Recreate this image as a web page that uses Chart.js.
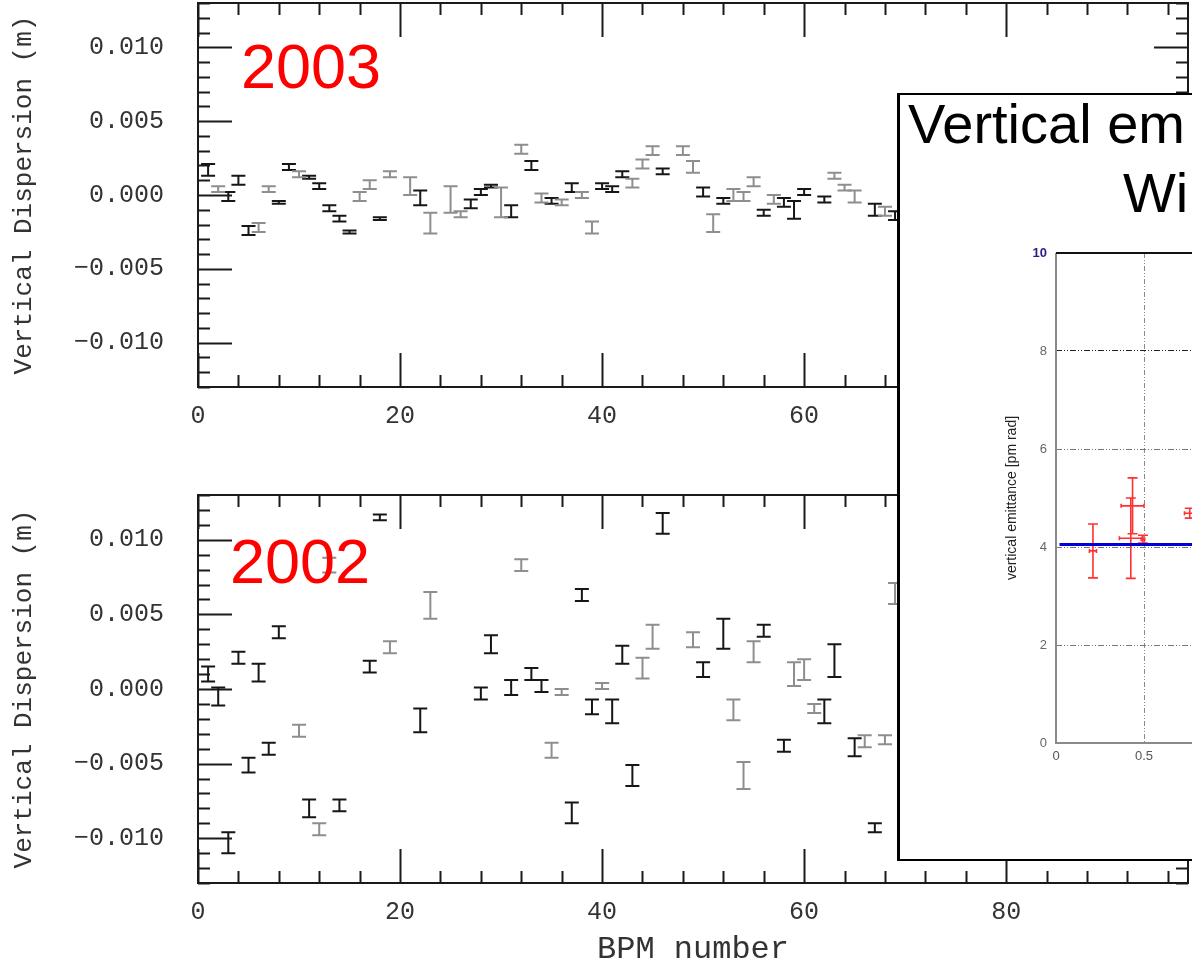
<!DOCTYPE html>
<html>
<head>
<meta charset="utf-8">
<script src="https://cdn.jsdelivr.net/npm/chart.js@4.4.1/dist/chart.umd.min.js"></script>
<style>
  html, body { margin: 0; padding: 0; background: #fff; overflow: hidden; width: 1192px; height: 966px; position: relative; }
  canvas { position: absolute; display: block; }
  #top { left: 0; top: 0; z-index: 1; }
  #bottom { left: 0; top: 450px; z-index: 1; }
  #inset { position: absolute; left: 897px; top: 93px; width: 420px; height: 768px; box-sizing: border-box;
           border: 2px solid #000; border-left-width: 3px; background: #fff; overflow: hidden; z-index: 2; }
  .inset-title { position: absolute; font-family: "Liberation Sans", Arial, sans-serif; font-size: 56px;
                 line-height: 56px; color: #000; white-space: nowrap; }
  #emit { left: 95px; top: 145px; }
</style>
</head>
<body>
<canvas id="top" width="1192" height="440"></canvas>
<canvas id="bottom" width="1192" height="516"></canvas>
<div id="inset">
  <div class="inset-title" style="left:8px;top:1px">Vertical em</div>
  <div class="inset-title" style="left:223px;top:70px">Wi</div>
  <canvas id="emit" width="325" height="540"></canvas>
</div>
<script>
// ---- Vertical dispersion per BPM, 2003 run (dark and light markers) ----
const bpm2003Dark  = [1, 3, 4, 5, 8, 9, 11, 12, 13, 14, 15, 18, 22, 27, 28, 29, 31, 33, 35, 37, 40, 41, 42, 46, 50, 52, 56, 58, 59, 60, 62, 67, 69];
const disp2003Dark = [0.0017, -0.0001, 0.0010, -0.0024, -0.0005, 0.0019, 0.0012, 0.0006, -0.0009, -0.0016, -0.0025, -0.0016, -0.0002, -0.0006, 0.0002, 0.0006, -0.0011, 0.0020, -0.0004, 0.0005, 0.0006, 0.0004, 0.0014, 0.0016, 0.0002, -0.0004, -0.0012, -0.0005, -0.0010, 0.0002, -0.0003, -0.0010, -0.0014];
const err2003Dark  = [0.0004, 0.0003, 0.0003, 0.0003, 0.0001, 0.0002, 0.0001, 0.0002, 0.0002, 0.0002, 0.0001, 0.0001, 0.0005, 0.0003, 0.0002, 0.0001, 0.0004, 0.0003, 0.0002, 0.0003, 0.0002, 0.0002, 0.0002, 0.0002, 0.0003, 0.0002, 0.0002, 0.0003, 0.0006, 0.0002, 0.0002, 0.0004, 0.0003];

const bpm2003Light  = [2, 6, 7, 10, 16, 17, 19, 21, 23, 25, 26, 30, 32, 34, 36, 38, 39, 43, 44, 45, 48, 49, 51, 53, 54, 55, 57, 63, 64, 65, 68];
const disp2003Light = [0.0004, -0.0022, 0.0004, 0.0014, -0.0001, 0.0007, 0.0014, 0.0006, -0.0019, -0.0003, -0.0013, -0.0005, 0.0031, -0.0002, -0.0005, 0.0000, -0.0022, 0.0008, 0.0021, 0.0030, 0.0030, 0.0019, -0.0019, 0.0000, -0.0001, 0.0009, -0.0003, 0.0013, 0.0005, -0.0001, -0.0011];
const err2003Light  = [0.0002, 0.0003, 0.0002, 0.0002, 0.0003, 0.0003, 0.0002, 0.0006, 0.0007, 0.0009, 0.0002, 0.0010, 0.0003, 0.0003, 0.0002, 0.0002, 0.0004, 0.0003, 0.0003, 0.0003, 0.0003, 0.0004, 0.0006, 0.0004, 0.0003, 0.0003, 0.0003, 0.0002, 0.0002, 0.0004, 0.0003];

// ---- Vertical dispersion per BPM, 2002 run ----
const bpm2002Dark  = [1, 2, 3, 4, 5, 6, 7, 8, 11, 14, 17, 18, 22, 28, 29, 31, 33, 34, 37, 38, 39, 41, 42, 43, 46, 50, 52, 56, 58, 62, 63, 65, 67];
const disp2002Dark = [0.0010, -0.0005, -0.0103, 0.0021, -0.0051, 0.0011, -0.0040, 0.0038, -0.0080, -0.0078, 0.0015, 0.0115, -0.0021, -0.0003, 0.0030, 0.0001, 0.0010, 0.0002, -0.0083, 0.0063, -0.0012, -0.0015, 0.0023, -0.0058, 0.0111, 0.0013, 0.0037, 0.0039, -0.0038, -0.0015, 0.0019, -0.0039, -0.0093];
const err2002Dark  = [0.0005, 0.0006, 0.0007, 0.0004, 0.0005, 0.0006, 0.0004, 0.0004, 0.0006, 0.0004, 0.0004, 0.0002, 0.0008, 0.0004, 0.0006, 0.0005, 0.0004, 0.0004, 0.0007, 0.0004, 0.0005, 0.0008, 0.0006, 0.0007, 0.0007, 0.0005, 0.0010, 0.0004, 0.0004, 0.0008, 0.0011, 0.0006, 0.0003];

const bpm2002Light  = [10, 12, 13, 19, 23, 32, 35, 36, 40, 44, 45, 49, 53, 54, 55, 59, 60, 61, 66, 68, 69];
const disp2002Light = [-0.0028, -0.0094, 0.0083, 0.0028, 0.0056, 0.0083, -0.0041, -0.0002, 0.0002, 0.0014, 0.0035, 0.0033, -0.0014, -0.0058, 0.0025, 0.0010, 0.0013, -0.0013, -0.0035, -0.0034, 0.0064];
const err2002Light  = [0.0004, 0.0004, 0.0005, 0.0004, 0.0009, 0.0004, 0.0005, 0.0002, 0.0002, 0.0007, 0.0008, 0.0005, 0.0007, 0.0009, 0.0007, 0.0008, 0.0007, 0.0003, 0.0004, 0.0003, 0.0007];

// ---- Axis tick values for the dispersion panels ----
const dispTickValues = [-0.010, -0.005, 0.000, 0.005, 0.010];
const bpmTickValues  = [0, 20, 40, 60, 80];

// ---- Vertical emittance measurements (inset) ----
const emitX    = [0.21, 0.435, 0.425, 0.494, 0.76];
const emitXErr = [0.02, 0.065, 0.065, 0.01, 0.03];
const emitY    = [3.92, 4.84, 4.18, 4.16, 4.69];
const emitYErr = [0.55, 0.57, 0.82, 0.08, 0.10];
const emitFitLevel = 4.05;
const emitFitFrom  = 0.02;
const emitFitTo    = 1.5;
const emitYTicks = [0, 2, 4, 6, 8, 10];
const emitXTicks = [0, 0.5, 1, 1.5];

// Draws I-shaped error bars for every dataset that carries an errorBars style.
const errorBarPlugin = {
  id: 'errorBars',
  afterDatasetDraw(chart, args) {
    const ds = chart.data.datasets[args.index];
    const style = ds.errorBars;
    if (!style) return;
    const { ctx, chartArea, scales: { x, y } } = chart;
    ctx.save();
    ctx.beginPath();
    ctx.rect(chartArea.left, chartArea.top, chartArea.right - chartArea.left, chartArea.bottom - chartArea.top);
    ctx.clip();
    ctx.strokeStyle = style.color;
    ctx.lineWidth = style.width;
    ctx.lineCap = 'butt';
    ds.data.forEach(p => {
      const px = x.getPixelForValue(p.x);
      const py = y.getPixelForValue(p.y);
      ctx.beginPath();
      if (p.yErr) {
        const y0 = y.getPixelForValue(p.y - p.yErr);
        const y1 = y.getPixelForValue(p.y + p.yErr);
        ctx.moveTo(px, y0); ctx.lineTo(px, y1);
        ctx.moveTo(px - style.cap, y0); ctx.lineTo(px + style.cap, y0);
        ctx.moveTo(px - style.cap, y1); ctx.lineTo(px + style.cap, y1);
      }
      if (p.xErr) {
        const x0 = x.getPixelForValue(p.x - p.xErr);
        const x1 = x.getPixelForValue(p.x + p.xErr);
        const c = style.xCap || 0;
        ctx.moveTo(x0, py); ctx.lineTo(x1, py);
        if (c) {
          ctx.moveTo(x0, py - c); ctx.lineTo(x0, py + c);
          ctx.moveTo(x1, py - c); ctx.lineTo(x1, py + c);
        }
      }
      ctx.stroke();
    });
    ctx.restore();
  }
};

// Frame with inward major/minor ticks on all four sides of a dispersion panel.
const panelFramePlugin = {
  id: 'panelFrame',
  afterDraw(chart) {
    const { ctx, chartArea: a, scales: { x, y } } = chart;
    ctx.save();
    ctx.strokeStyle = '#1a1a1a';
    ctx.lineWidth = 2;
    ctx.strokeRect(a.left, a.top, a.right - a.left, a.bottom - a.top);
    ctx.beginPath();
    for (let k = -13; k <= 13; k++) {
      const py = Math.round(y.getPixelForValue(k / 1000)) + 0.5;
      const len = (k % 5 === 0) ? 34 : 12;
      ctx.moveTo(a.left, py); ctx.lineTo(a.left + len, py);
      ctx.moveTo(a.right, py); ctx.lineTo(a.right - len, py);
    }
    for (let n = 0; n <= x.max; n += 4) {
      const px = Math.round(x.getPixelForValue(n)) + 0.5;
      const len = (n % 20 === 0) ? 34 : 12;
      ctx.moveTo(px, a.bottom); ctx.lineTo(px, a.bottom - len);
      ctx.moveTo(px, a.top); ctx.lineTo(px, a.top + len);
    }
    ctx.stroke();
    ctx.restore();
  }
};

// Red year tag in the upper-left corner of a panel.
const yearTagPlugin = {
  id: 'yearTag',
  afterDraw(chart, args, opts) {
    if (!opts.text) return;
    const { ctx } = chart;
    ctx.save();
    ctx.font = '63px "Liberation Sans", Arial, sans-serif';
    ctx.fillStyle = '#ff0000';
    ctx.textBaseline = 'alphabetic';
    ctx.fillText(opts.text, opts.x, opts.y);
    ctx.restore();
  }
};

const monoFont = '"Liberation Mono", "DejaVu Sans Mono", monospace';

// Scales sit exactly on the plot frame: no extra room reserved for end labels.
function noEdgePadding(s) {
  s.paddingTop = 0; s.paddingBottom = 0; s.paddingLeft = 0; s.paddingRight = 0;
}

function toPoints(xs, ys, es) {
  return xs.map((v, i) => ({ x: v, y: ys[i], yErr: es[i] }));
}

function dispersionChart(canvasId, dark, light, layout) {
  return new Chart(document.getElementById(canvasId), {
    type: 'scatter',
    data: {
      datasets: [
        { label: 'light', data: toPoints(light.bpm, light.disp, light.err), pointRadius: 0,
          errorBars: { color: '#8e8e8e', width: 2, cap: 7 } },
        { label: 'dark', data: toPoints(dark.bpm, dark.disp, dark.err), pointRadius: 0,
          errorBars: { color: '#161616', width: 2, cap: 7 } }
      ]
    },
    options: {
      responsive: false,
      animation: false,
      layout: { padding: { top: layout.padTop, right: 4, left: 0, bottom: 0 } },
      plugins: {
        legend: { display: false },
        tooltip: { enabled: false },
        yearTag: layout.tag
      },
      scales: {
        x: {
          type: 'linear', min: 0, max: 98,
          grid: { display: false, drawTicks: false },
          border: { display: false },
          afterBuildTicks: s => { s.ticks = bpmTickValues.map(v => ({ value: v })); },
          afterFit: s => { s.height = layout.xHeight; noEdgePadding(s); },
          ticks: { autoSkip: false, maxRotation: 0, padding: 14, color: '#333',
                   font: { family: monoFont, size: 25 }, callback: v => String(v) },
          title: { display: layout.xTitle, text: 'BPM number', color: '#333',
                   font: { family: monoFont, size: 32, lineHeight: 1 }, padding: { top: 0, bottom: 0 } }
        },
        y: {
          type: 'linear', min: -0.013, max: 0.013,
          grid: { display: false, drawTicks: false },
          border: { display: false },
          afterBuildTicks: s => { s.ticks = dispTickValues.map(v => ({ value: v })); },
          afterFit: s => { s.width = 198; noEdgePadding(s); },
          ticks: { padding: 34, color: '#333', font: { family: monoFont, size: 25 },
                   callback: v => (v < 0 ? '\u2212' : '') + Math.abs(v).toFixed(3) },
          title: { display: true, text: 'Vertical Dispersion (m)', color: '#333',
                   font: { family: monoFont, size: 26 }, padding: { top: 9, bottom: 0 } }
        }
      }
    },
    plugins: [errorBarPlugin, panelFramePlugin, yearTagPlugin]
  });
}

dispersionChart('top',
  { bpm: bpm2003Dark, disp: disp2003Dark, err: err2003Dark },
  { bpm: bpm2003Light, disp: disp2003Light, err: err2003Light },
  { padTop: 3, xHeight: 53, xTitle: false, tag: { text: '2003', x: 241, y: 88 } });

dispersionChart('bottom',
  { bpm: bpm2002Dark, disp: disp2002Dark, err: err2002Dark },
  { bpm: bpm2002Light, disp: disp2002Light, err: err2002Light },
  { padTop: 45, xHeight: 83, xTitle: true, tag: { text: '2002', x: 230, y: 133 } });

// ---- Inset: vertical emittance ----
const insetFramePlugin = {
  id: 'insetFrame',
  afterDraw(chart) {
    const { ctx, chartArea: a } = chart;
    ctx.save();
    ctx.lineWidth = 2;
    ctx.strokeStyle = '#8a8a8a';
    ctx.beginPath();
    ctx.moveTo(a.left, a.top); ctx.lineTo(a.left, a.bottom); ctx.lineTo(a.right, a.bottom);
    ctx.stroke();
    ctx.strokeStyle = '#111';
    ctx.beginPath();
    ctx.moveTo(a.left, a.top); ctx.lineTo(a.right, a.top);
    ctx.stroke();
    ctx.restore();
  }
};

const sansFont = '"Liberation Sans", Arial, sans-serif';

new Chart(document.getElementById('emit'), {
  type: 'scatter',
  data: {
    datasets: [
      { type: 'line', label: 'mean', order: 0,
        data: [{ x: emitFitFrom, y: emitFitLevel }, { x: emitFitTo, y: emitFitLevel }],
        borderColor: '#0000dd', borderWidth: 3, pointRadius: 0 },
      { label: 'measured', order: 1, pointRadius: 0,
        data: emitX.map((v, i) => ({ x: v, y: emitY[i], xErr: emitXErr[i], yErr: emitYErr[i] })),
        errorBars: { color: '#ff3030', width: 1.6, cap: 5, xCap: 2 } }
    ]
  },
  options: {
    responsive: false,
    animation: false,
    layout: { padding: { top: 13, right: 0, left: 0, bottom: 0 } },
    plugins: { legend: { display: false }, tooltip: { enabled: false } },
    scales: {
      x: {
        type: 'linear', min: 0, max: 1.5,
        grid: { color: '#8a8a8a', lineWidth: 1, drawTicks: false },
        border: { display: false, dash: [5, 2, 1, 2, 1, 2] },
        afterBuildTicks: s => { s.ticks = emitXTicks.map(v => ({ value: v })); },
        afterFit: s => { s.height = 37; noEdgePadding(s); },
        ticks: { padding: 6, color: '#555', font: { family: sansFont, size: 13 },
                 callback: v => String(v) }
      },
      y: {
        type: 'linear', min: 0, max: 10,
        grid: { color: c => (c.tick && c.tick.value === 8) ? '#222' : '#777', lineWidth: 1, drawTicks: false },
        border: { display: false, dash: [6, 2, 1, 2, 1, 2] },
        afterBuildTicks: s => { s.ticks = emitYTicks.map(v => ({ value: v })); },
        afterFit: s => { s.width = 61; noEdgePadding(s); },
        ticks: {
          padding: 9,
          color: c => (c.tick && c.tick.value === 10) ? '#2d1b8c' : '#666',
          font: c => ({ family: sansFont, size: 13, weight: (c.tick && c.tick.value === 10) ? 'bold' : 'normal' })
        },
        title: { display: true, text: 'vertical emittance [pm rad]', color: '#222',
                 font: { family: sansFont, size: 14 }, padding: { top: 9, bottom: 0 } }
      }
    }
  },
  plugins: [errorBarPlugin, insetFramePlugin]
});
</script>
</body>
</html>
